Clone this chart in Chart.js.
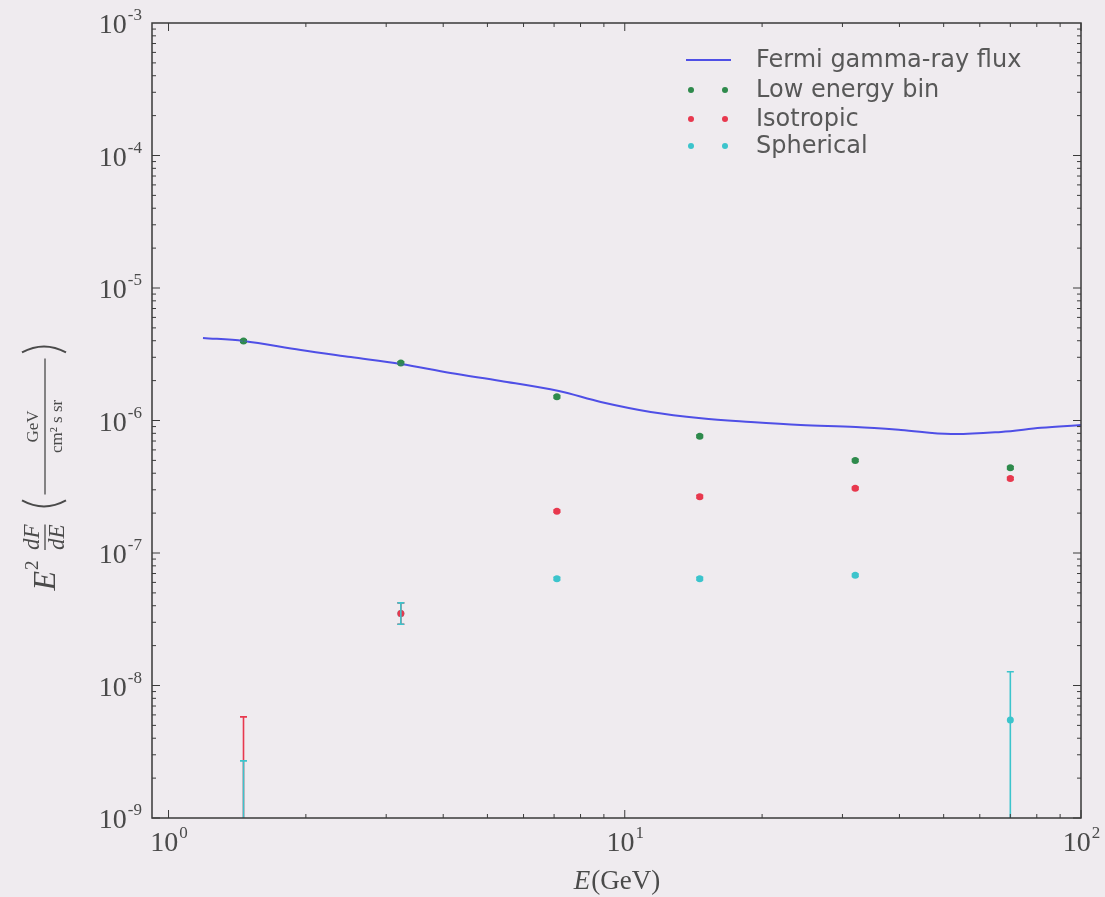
<!DOCTYPE html>
<html>
<head>
<meta charset="utf-8">
<script src="https://cdn.jsdelivr.net/npm/chart.js@4.4.1/dist/chart.umd.min.js"></script>
<style>
  html, body { margin: 0; padding: 0; background: #efebef; }
  #wrap { width: 1105px; height: 897px; }
</style>
</head>
<body>
<div id="wrap"><canvas id="chart" width="1105" height="897"></canvas></div>
<script>
// axis ranges and labelled ticks
const xRange = [0.92, 100]
const yRange = [1e-9, 1e-3]
const xTicks = [1, 10, 100]
const yTicks = [1e-9, 1e-8, 1e-7, 1e-6, 1e-5, 1e-4, 1e-3]

// Fermi diffuse spectrum, E^2 dF/dE in GeV cm^-2 s^-1 sr^-1
const fermiEnergy = [1.19, 1.46, 1.95, 2.51, 3.23, 4.15, 5.35, 7.17, 8.86, 11.4, 14.7, 18.9, 24.3, 32.1, 40.3, 51.9, 66.8, 81.7, 100]
const fermiFlux = [4.2e-6, 3.98e-6, 3.4e-6, 3.01e-6, 2.67e-6, 2.28e-6, 1.99e-6, 1.67e-6, 1.38e-6, 1.16e-6, 1.04e-6, 9.75e-7, 9.25e-7, 8.93e-7, 8.48e-7, 7.9e-7, 8.2e-7, 8.8e-7, 9.25e-7]

// energy bin centres (GeV)
const binEnergy = [1.46, 3.23, 7.1, 14.6, 32, 70]

const lowEnergy = [3.98e-6, 2.72e-6, 1.51e-6, 7.6e-7, 5.0e-7, 4.4e-7]
const lowEnergyLo = [3.9e-6, 2.67e-6, 1.48e-6, 7.45e-7, 4.9e-7, 4.3e-7]
const lowEnergyHi = [4.06e-6, 2.77e-6, 1.54e-6, 7.75e-7, 5.1e-7, 4.5e-7]

const isotropic = [8e-10, 3.5e-8, 2.07e-7, 2.66e-7, 3.08e-7, 3.65e-7]
const isotropicLo = [1e-10, 2.9e-8, 2.03e-7, 2.6e-7, 3.02e-7, 3.57e-7]
const isotropicHi = [5.8e-9, 4.2e-8, 2.11e-7, 2.72e-7, 3.14e-7, 3.73e-7]

const spherical = [8e-10, 3.5e-8, 6.4e-8, 6.4e-8, 6.8e-8, 5.5e-9]
const sphericalLo = [1e-10, 2.9e-8, 6.25e-8, 6.25e-8, 6.65e-8, 1e-10]
const sphericalHi = [2.7e-9, 4.2e-8, 6.55e-8, 6.55e-8, 6.95e-8, 1.27e-8]

const seriesNames = ["Fermi gamma-ray flux", "Low energy bin", "Isotropic", "Spherical"]
const seriesColors = ["#4f4fe6", "#2f8a4c", "#e8384e", "#3cc4cc"]

const toPoints = (xs, ys) => xs.map((x, i) => ({ x, y: ys[i] }))

const textColor = "#4a4a4a"
const frameColor = "#3a3a3a"

// draws "10" with a raised exponent at (x, y)
function drawPower(ctx, exp, x, y, align) {
  ctx.save()
  ctx.fillStyle = textColor
  ctx.textBaseline = "middle"
  ctx.font = "28px 'Liberation Serif'"
  const base = "10"
  const bw = ctx.measureText(base).width
  ctx.font = "17px 'Liberation Serif'"
  const sup = exp < 0 ? "-" + Math.abs(exp) : String(exp)
  const sw = ctx.measureText(sup).width
  let left
  if (align === "right") left = x - bw - sw - 1
  else left = x - (bw + sw) / 2
  ctx.font = "28px 'Liberation Serif'"
  ctx.textAlign = "left"
  ctx.fillText(base, left, y)
  ctx.font = "17px 'Liberation Serif'"
  ctx.fillText(sup, left + bw + 1, y - 10)
  ctx.restore()
}

// thin tall parenthesis, opening towards +u when dir = 1
function paren(ctx, u, half, dir) {
  ctx.beginPath()
  ctx.moveTo(u + 6 * dir, -half)
  ctx.quadraticCurveTo(u - 6 * dir, 0, u + 6 * dir, half)
  ctx.stroke()
}

// frame, inward ticks, tick labels and axis titles
const axesPlugin = {
  id: "axesFrame",
  afterDatasetsDraw(chart) {
    const { ctx, chartArea: a, scales } = chart
    const xs = scales.x, ys = scales.y
    ctx.save()
    ctx.strokeStyle = frameColor
    ctx.lineWidth = 1.5
    ctx.strokeRect(a.left, a.top, a.right - a.left, a.bottom - a.top)

    ctx.lineWidth = 1
    // x ticks (major + minor) on bottom and top
    for (let d = -1; d <= 2; d++) {
      for (let m = 1; m <= 9; m++) {
        const v = m * Math.pow(10, d)
        if (v < xRange[0] || v > xRange[1]) continue
        const px = xs.getPixelForValue(v)
        const len = m === 1 ? 8 : 4
        ctx.beginPath()
        ctx.moveTo(px, a.bottom); ctx.lineTo(px, a.bottom - len)
        ctx.moveTo(px, a.top); ctx.lineTo(px, a.top + len)
        ctx.stroke()
      }
    }
    // y ticks on left and right
    for (let d = -9; d < -3; d++) {
      for (let m = 1; m <= 9; m++) {
        const v = m * Math.pow(10, d)
        const py = ys.getPixelForValue(v)
        const len = m === 1 ? 8 : 4
        ctx.beginPath()
        ctx.moveTo(a.left, py); ctx.lineTo(a.left + len, py)
        ctx.moveTo(a.right, py); ctx.lineTo(a.right - len, py)
        ctx.stroke()
      }
    }

    xTicks.forEach(v => drawPower(ctx, Math.round(Math.log10(v)), xs.getPixelForValue(v), a.bottom + 26, "center"))
    yTicks.forEach(v => drawPower(ctx, Math.round(Math.log10(v)), a.left - 10, ys.getPixelForValue(v) + 3, "right"))

    // x title: E(GeV)
    ctx.fillStyle = textColor
    ctx.textBaseline = "alphabetic"
    const cx = (a.left + a.right) / 2
    ctx.font = "italic 27px 'Liberation Serif'"
    const ew = ctx.measureText("E").width
    ctx.font = "27px 'Liberation Serif'"
    const gw = ctx.measureText("(GeV)").width
    const x0 = cx - (ew + gw) / 2
    ctx.font = "italic 27px 'Liberation Serif'"
    ctx.fillText("E", x0, a.bottom + 71)
    ctx.font = "27px 'Liberation Serif'"
    ctx.fillText("(GeV)", x0 + ew + 1, a.bottom + 71)

    // y title, rotated: E^2 dF/dE (GeV / cm^2 s sr)
    ctx.save()
    ctx.translate(44, (a.top + a.bottom) / 2 + 12)
    ctx.rotate(-Math.PI / 2)
    ctx.textBaseline = "alphabetic"
    ctx.textAlign = "left"
    ctx.strokeStyle = textColor
    let u = -158
    ctx.font = "italic 32px 'Liberation Serif'"
    ctx.fillText("E", u, 11)
    u += ctx.measureText("E").width + 1
    ctx.font = "19px 'Liberation Serif'"
    ctx.fillText("2", u, -6)
    u += 20
    // dF / dE
    ctx.font = "italic 23px 'Liberation Serif'"
    const fw = Math.max(ctx.measureText("dF").width, ctx.measureText("dE").width)
    ctx.textAlign = "center"
    ctx.fillText("dF", u + fw / 2, -5)
    ctx.fillText("dE", u + fw / 2, 20)
    ctx.lineWidth = 1.3
    ctx.beginPath(); ctx.moveTo(u, 1); ctx.lineTo(u + fw, 1); ctx.stroke()
    u += fw + 18
    // parentheses around the unit fraction
    const barLen = 136
    ctx.lineWidth = 2
    paren(ctx, u, 22, 1)
    u += 12
    ctx.font = "17px 'Liberation Serif'"
    ctx.textAlign = "center"
    ctx.fillText("GeV", u + barLen / 2, -6)
    ctx.fillText("cm² s sr", u + barLen / 2, 18)
    ctx.lineWidth = 1.3
    ctx.beginPath(); ctx.moveTo(u, 1); ctx.lineTo(u + barLen, 1); ctx.stroke()
    u += barLen + 12
    ctx.lineWidth = 2
    paren(ctx, u, 22, -1)
    ctx.restore()

    ctx.restore()
  }
}

// vertical error bars with caps, drawn from the Lo/Hi arrays
const errorBarPlugin = {
  id: "errorBars",
  afterDatasetsDraw(chart) {
    const { ctx, chartArea: a, scales } = chart
    ctx.save()
    ctx.beginPath()
    ctx.rect(a.left, a.top, a.right - a.left, a.bottom - a.top)
    ctx.clip()
    chart.data.datasets.forEach(ds => {
      if (!ds.errLo) return
      ctx.strokeStyle = ds.borderColor
      ctx.lineWidth = 1.6
      ds.data.forEach((p, i) => {
        const px = scales.x.getPixelForValue(p.x)
        const y1 = scales.y.getPixelForValue(ds.errLo[i])
        const y2 = scales.y.getPixelForValue(ds.errHi[i])
        ctx.beginPath()
        ctx.moveTo(px, y1); ctx.lineTo(px, y2)
        ctx.moveTo(px - 3.5, y1); ctx.lineTo(px + 3.5, y1)
        ctx.moveTo(px - 3.5, y2); ctx.lineTo(px + 3.5, y2)
        ctx.stroke()
      })
    })
    ctx.restore()
  }
}

// legend without frame: line sample or two dots, then the label
const legendPlugin = {
  id: "dotLegend",
  afterDraw(chart) {
    const { ctx } = chart
    const rows = [60, 90, 119, 146]
    ctx.save()
    ctx.font = "24px 'DejaVu Sans'"
    ctx.textBaseline = "middle"
    seriesNames.forEach((name, i) => {
      const y = rows[i]
      ctx.fillStyle = seriesColors[i]
      ctx.strokeStyle = seriesColors[i]
      if (i === 0) {
        ctx.lineWidth = 2
        ctx.beginPath(); ctx.moveTo(686, y); ctx.lineTo(731, y); ctx.stroke()
      } else {
        [691, 725].forEach(dx => {
          ctx.beginPath(); ctx.arc(dx, y, 3, 0, Math.PI * 2); ctx.fill()
        })
      }
      ctx.fillStyle = "#585858"
      ctx.fillText(name, 756, y + 1)
    })
    ctx.restore()
  }
}

const scatterSet = (i, ys, lo, hi) => ({
  type: "scatter",
  label: seriesNames[i],
  data: toPoints(binEnergy, ys),
  errLo: lo,
  errHi: hi,
  backgroundColor: seriesColors[i],
  borderColor: seriesColors[i],
  pointRadius: 3.5,
  pointHoverRadius: 3.5,
  borderWidth: 0
})

new Chart(document.getElementById("chart"), {
  data: {
    datasets: [
      {
        type: "line",
        label: seriesNames[0],
        data: toPoints(fermiEnergy, fermiFlux),
        borderColor: seriesColors[0],
        borderWidth: 2,
        pointRadius: 0,
        tension: 0.35,
        fill: false
      },
      scatterSet(1, lowEnergy, lowEnergyLo, lowEnergyHi),
      scatterSet(2, isotropic, isotropicLo, isotropicHi),
      scatterSet(3, spherical, sphericalLo, sphericalHi)
    ]
  },
  options: {
    responsive: false,
    animation: false,
    devicePixelRatio: 1,
    layout: { padding: { left: 152, right: 24, top: 23, bottom: 79 } },
    plugins: { legend: { display: false }, tooltip: { enabled: false } },
    scales: {
      x: { type: "logarithmic", min: xRange[0], max: xRange[1], display: false },
      y: { type: "logarithmic", min: yRange[0], max: yRange[1], display: false }
    }
  },
  plugins: [errorBarPlugin, axesPlugin, legendPlugin]
})
</script>
</body>
</html>
